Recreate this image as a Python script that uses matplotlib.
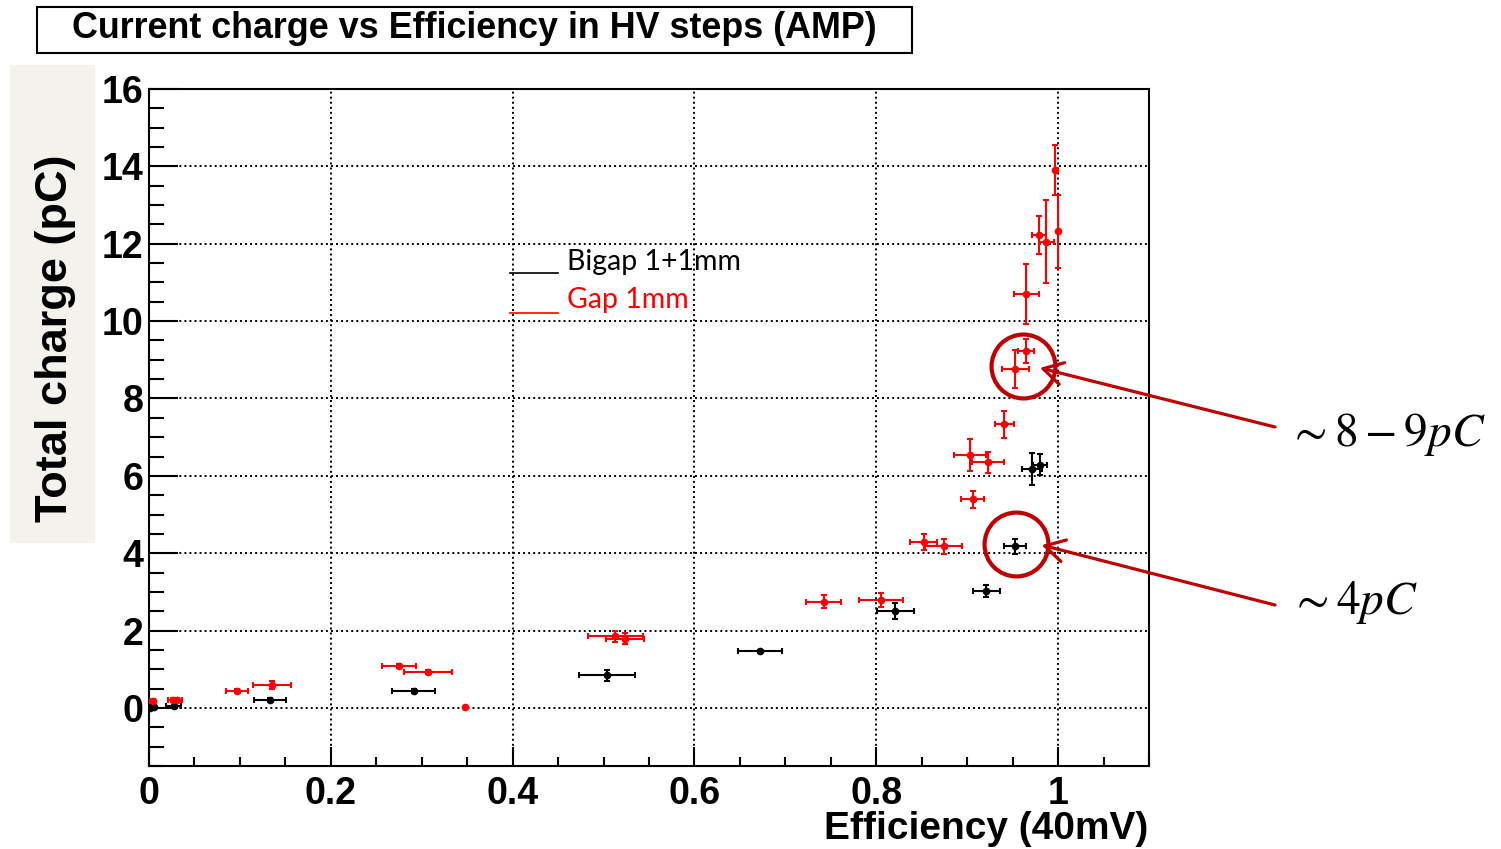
import matplotlib
matplotlib.use("Agg")
import matplotlib.pyplot as plt
from matplotlib.patches import Rectangle
from matplotlib.lines import Line2D
from matplotlib.ticker import MultipleLocator, FuncFormatter

plt.rcParams['mathtext.fontset'] = 'stix'

# Gap 1mm (red)
gap_eff = [0.004, 0.026, 0.031, 0.097, 0.135, 0.275, 0.307, 0.348, 0.513, 0.524, 0.742, 0.805,
           0.852, 0.874, 0.906, 0.903, 0.923, 0.941, 0.953, 0.965, 0.965, 0.979, 0.987, 0.997, 1.000]
gap_q = [0.17, 0.21, 0.21, 0.45, 0.60, 1.09, 0.94, 0.02, 1.85, 1.79, 2.75, 2.79,
         4.29, 4.18, 5.39, 6.53, 6.35, 7.33, 8.76, 9.23, 10.70, 12.23, 12.05, 13.90, 12.32]
gap_eff_err = [0.003, 0.005, 0.005, 0.012, 0.021, 0.019, 0.026, 0.0, 0.030, 0.021, 0.019, 0.024,
               0.015, 0.020, 0.013, 0.018, 0.018, 0.010, 0.015, 0.009, 0.014, 0.008, 0.008, 0.0, 0.0]
gap_q_err = [0.03, 0.06, 0.06, 0.05, 0.10, 0.05, 0.05, 0.0, 0.14, 0.14, 0.16, 0.17,
             0.21, 0.20, 0.23, 0.41, 0.27, 0.35, 0.50, 0.30, 0.78, 0.50, 1.07, 0.65, 0.95]

# Bigap 1+1mm (black)
bigap_eff = [0.001, 0.005, 0.027, 0.133, 0.291, 0.504, 0.672, 0.821, 0.921, 0.953, 0.971, 0.980]
bigap_q = [0.0, 0.02, 0.04, 0.21, 0.43, 0.84, 1.46, 2.51, 3.02, 4.18, 6.18, 6.29]
bigap_eff_err = [0.0, 0.003, 0.008, 0.018, 0.024, 0.031, 0.024, 0.020, 0.015, 0.012, 0.011, 0.008]
bigap_q_err = [0.0, 0.02, 0.03, 0.04, 0.05, 0.13, 0.05, 0.21, 0.15, 0.20, 0.41, 0.28]

# highlighted regions and labels
circle_eff = [0.9615, 0.9535]
circle_q = [8.85, 4.24]
arrow_eff = [0.980, 0.982]
arrow_q = [8.79, 4.21]
callouts = [r'$\sim 8-9pC$', r'$\sim 4pC$']

W, H = 1501, 849
fig = plt.figure(figsize=(W / 100, H / 100), dpi=100)


def fx(px):
    return px / W


def fy(py):
    return 1 - py / H


# beige band behind y label
fig.patches.append(Rectangle((fx(10), fy(543)), fx(85), 478 / H, transform=fig.transFigure,
                             facecolor='#f3f2ed', edgecolor='none', zorder=0))

ax = fig.add_axes([fx(149), fy(766), 1000 / W, 677 / H])
ax.set_xlim(0, 1.1)
ax.set_ylim(-1.5, 16)

ax.errorbar(bigap_eff, bigap_q, xerr=bigap_eff_err, yerr=bigap_q_err, fmt='o', color='black',
            ms=4.5, elinewidth=1.5, capsize=2.5, capthick=1.5, zorder=3)
ax.errorbar(gap_eff, gap_q, xerr=gap_eff_err, yerr=gap_q_err, fmt='o', color='#ff0000',
            ms=4.5, elinewidth=1.5, capsize=2.5, capthick=1.5, zorder=4)

ax.xaxis.set_major_locator(MultipleLocator(0.2))
ax.xaxis.set_minor_locator(MultipleLocator(0.05))
ax.yaxis.set_major_locator(MultipleLocator(2))
ax.yaxis.set_minor_locator(MultipleLocator(0.5))
ax.xaxis.set_major_formatter(FuncFormatter(lambda v, p: '%g' % round(v, 2)))
ax.yaxis.set_major_formatter(FuncFormatter(lambda v, p: '%g' % v))
ax.tick_params(axis='both', which='both', direction='in', width=1.5, top=False, right=False)
ax.tick_params(axis='y', which='major', length=21, pad=4)
ax.tick_params(axis='y', which='minor', length=10.5)
ax.tick_params(axis='x', which='major', length=14, pad=7)
ax.tick_params(axis='x', which='minor', length=6.5)
for lab in ax.get_xticklabels() + ax.get_yticklabels():
    lab.set_fontfamily('Liberation Sans')
    lab.set_fontweight('bold')
    lab.set_fontsize(27)
ax.grid(True, which='major', color='black', linestyle=(0, (1, 1.6)), linewidth=1.4)
for s in ax.spines.values():
    s.set_linewidth(1.5)
    s.set_color('black')

# callout circles and arrows
ax.plot(circle_eff, circle_q, 'o', ms=46, mfc='none', mec='#c00000', mew=3, zorder=5)
ytext = [427, 605]
for i in range(2):
    ax.annotate('', xy=(arrow_eff[i], arrow_q[i]), xycoords='data',
                xytext=(fx(1275), fy(ytext[i])), textcoords='figure fraction',
                arrowprops=dict(arrowstyle='->,head_length=0.7,head_width=0.4', color='#c00000',
                                lw=2.3, mutation_scale=20, shrinkA=0, shrinkB=0),
                annotation_clip=False)
fig.text(fx(1288), fy(435), callouts[0], fontsize=34, ha='left', va='center')
fig.text(fx(1290), fy(603), callouts[1], fontsize=34, ha='left', va='center')

# legend drawn as in slide
fig.add_artist(Line2D([fx(510), fx(558)], [fy(273), fy(273)], color='black', lw=1.2))
fig.add_artist(Line2D([fx(510), fx(558)], [fy(313), fy(313)], color='#ff0000', lw=1.2))
fig.text(fx(567), fy(270), 'Bigap 1+1mm', fontsize=20.5, family='Lato', color='black', va='baseline')
fig.text(fx(567), fy(308), 'Gap 1mm', fontsize=20.5, family='Lato', color='#ff0000', va='baseline')

# title box
fig.patches.append(Rectangle((fx(37), fy(53)), 875 / W, 46 / H, transform=fig.transFigure,
                             facecolor='white', edgecolor='black', lw=1.5))
fig.text(fx(474), fy(29), 'Current charge vs Efficiency in HV steps (AMP)', fontsize=25.8,
         family='Liberation Sans', weight='bold', ha='center', va='center')

fig.text(fx(56), fy(338), 'Total charge (pC)', fontsize=32.5, family='Liberation Sans',
         weight='bold', rotation=90, ha='center', va='center')
fig.text(fx(1148), fy(829), 'Efficiency (40mV)', fontsize=28, family='Liberation Sans',
         weight='bold', ha='right', va='center')

fig.savefig('out.png', dpi=100)
